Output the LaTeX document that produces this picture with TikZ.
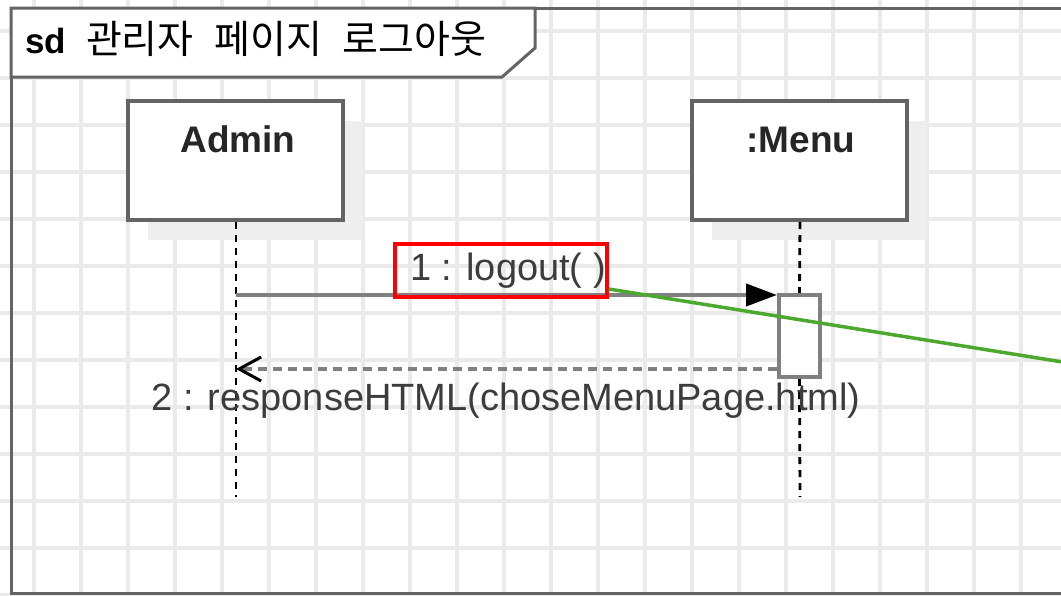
\documentclass[tikz,border=0pt]{standalone}
\usepackage{fontspec}
\setmainfont{Liberation Sans}
\newfontfamily\kr{Noto Sans CJK KR}
\usetikzlibrary{arrows.meta}
\definecolor{gridc}{RGB}{234,234,234}
\definecolor{frm}{RGB}{100,100,100}
\definecolor{lnc}{RGB}{128,128,128}
\definecolor{txt}{RGB}{60,60,60}
\definecolor{grn}{RGB}{77,168,48}
\definecolor{shd}{RGB}{238,238,238}
\tikzset{
  gridline/.style={draw=gridc,line width=3.5pt},
  objbox/.style={draw=frm,fill=white,line width=4pt,minimum width=215pt,minimum height=119pt,inner sep=0pt},
  shadowbox/.style={fill=shd,draw=none,minimum width=215pt,minimum height=119pt,inner sep=0pt},
  actbox/.style={draw=lnc,fill=white,line width=4pt,minimum width=41pt,minimum height=82pt,inner sep=0pt},
  lifeline/.style={draw=black,line width=2.8pt,dash pattern=on 7pt off 6pt},
  namelbl/.style={font=\fontsize{37}{42}\selectfont\bfseries,text=black!85,anchor=base,inner sep=0pt},
  msglbl/.style={font=\fontsize{38}{44}\selectfont,text=txt,anchor=base,inner sep=0pt},
  callmsg/.style={draw=lnc,line width=4pt,-{Triangle[length=31pt,width=22pt,black]}},
  retmsg/.style={draw=lnc,line width=4pt,dash pattern=on 9pt off 6pt,-{Straight Barb[length=22pt,width=24pt,black,line width=3pt]}},
  markbox/.style={draw=red,line width=3.5pt,fill=none,minimum width=212pt,minimum height=53pt,inner sep=0pt},
  greenline/.style={draw=grn,line width=3.5pt}
}
\begin{document}
\begin{tikzpicture}[x=1pt,y=-1pt]
\useasboundingbox (0,0) rectangle (1061,595);
\fill[white] (0,0) rectangle (1061,595);
\clip (0,0) rectangle (1061,595);
% grid
\foreach \gx in {34,81,...,1061} {\draw[gridline] (\gx,0) -- (\gx,595);}
\foreach \gy in {31,78,...,595} {\draw[gridline] (0,\gy) -- (1061,\gy);}
% frame
\draw[frm,line width=3pt] (11,8) rectangle (1080,593);
\filldraw[draw=frm,fill=white,line width=3pt] (11,8) -- (535,8) -- (535,48) -- (502,77) -- (11,77) -- cycle;
\node[anchor=base west,inner sep=0pt,font=\fontsize{35}{40}\selectfont] (title) at (25,53)
  {\textbf{sd}\hspace{20pt}{\kr\fontsize{39}{44}\selectfont 관리자\hspace{12pt} 페이지\hspace{12pt} 로그아웃}};
% shadows
\node[shadowbox] (adminshd) at (255.5,180.5) {};
\node[shadowbox] (menushd) at (819.5,180.5) {};
% object boxes
\node[objbox] (admin) at (235.5,160.5) {};
\node[objbox] (menu) at (799.5,160.5) {};
\node[namelbl] (adminlbl) at (238,152) {Admin};
\node[namelbl] (menulbl) at (801,152) {:Menu};
% lifeline ends
\coordinate (adminend) at (236,497);
\coordinate (menuend) at (800,497);
\coordinate (admintop) at (236,222);
\coordinate (menutop) at (800,222);
% activation
\node[actbox] (act) at (799.5,336) {};
\draw[lifeline] (admintop) -- (adminend);
\draw[lifeline] (menutop) -- (act.north);
\draw[lifeline] (act.south) -- (menuend);
% messages
\coordinate (m1s) at (236,295);
\coordinate (m2e) at (236,369);
\draw[callmsg] (m1s) -- (m1s -| act.west);
\draw[retmsg] (m2e -| act.west) -- (m2e);
\node[msglbl] (m1lbl) at (508,280) {1 : logout( )};
\node[msglbl] (m2lbl) at (506,410) {2 : responseHTML(choseMenuPage.html)};
% annotation
\node[markbox] (mark) at (501,270.5) {};
\coordinate (gend) at (1075,364);
\draw[greenline] (mark.east |- 0,289) -- (gend);
\end{tikzpicture}
\end{document}
